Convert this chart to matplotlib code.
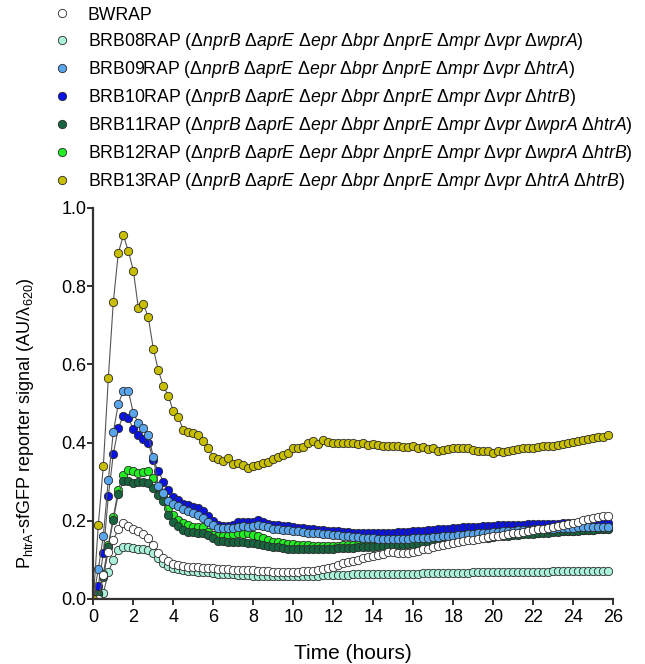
"""
plot.py

PhtrA-sfGFP reporter time courses for the protease deletion strains.
Writes out.png.
"""

import matplotlib
matplotlib.use("Agg")
import matplotlib.pyplot as plt
import numpy as np


plt.rcParams["font.family"] = ["Liberation Sans", "DejaVu Sans"]
plt.rcParams["mathtext.fontset"] = "custom"
plt.rcParams["mathtext.rm"] = "Liberation Sans"
plt.rcParams["mathtext.it"] = "Liberation Sans:italic"

# plate reader read every 15 min, 104 reads
TIME_STEP_H = 0.25

bwrap = [
    0.0, 0.0, 0.061, 0.121, 0.152, 0.178, 0.194, 0.186, 0.18, 0.174, 0.166, 0.155, 0.138,
    0.118, 0.104, 0.096, 0.09, 0.087, 0.085, 0.083, 0.083, 0.081, 0.079, 0.079, 0.078,
    0.077, 0.076, 0.076, 0.075, 0.075, 0.074, 0.074, 0.073, 0.072, 0.072, 0.071,
    0.070, 0.070, 0.069, 0.069, 0.070, 0.070, 0.071, 0.071, 0.072, 0.074, 0.076, 0.079,
    0.083, 0.087, 0.091, 0.094, 0.097, 0.100, 0.104, 0.107,
    0.110, 0.113, 0.116, 0.119, 0.121, 0.118, 0.117, 0.118, 0.121, 0.124, 0.127, 0.129,
    0.132, 0.135, 0.138, 0.141, 0.144, 0.146, 0.148, 0.150, 0.152, 0.154, 0.156, 0.158,
    0.160, 0.162, 0.164, 0.166, 0.168, 0.170, 0.172, 0.174, 0.176, 0.178, 0.180, 0.182,
    0.185, 0.187, 0.190, 0.192, 0.195, 0.198, 0.201, 0.204, 0.207, 0.209, 0.211, 0.212,
]
brb08 = [
    0.0, 0.003, 0.015, 0.068, 0.10, 0.125, 0.133, 0.133, 0.131, 0.128, 0.129, 0.125, 0.117,
    0.104, 0.093, 0.085, 0.078, 0.076, 0.074, 0.072, 0.071, 0.070, 0.068, 0.068, 0.066,
    0.065, 0.064, 0.063, 0.063, 0.062, 0.061, 0.061, 0.060, 0.060, 0.059, 0.059,
    0.058, 0.058, 0.058, 0.058, 0.058, 0.059, 0.059, 0.060, 0.060, 0.060, 0.061, 0.061,
    0.061, 0.062, 0.062, 0.062, 0.063, 0.063, 0.063, 0.063,
    0.064, 0.064, 0.064, 0.064, 0.064, 0.065, 0.065, 0.065, 0.065, 0.065, 0.066, 0.066,
    0.066, 0.066, 0.066, 0.067, 0.067, 0.067, 0.067, 0.067, 0.068, 0.068, 0.068, 0.068,
    0.068, 0.068, 0.069, 0.069, 0.069, 0.069, 0.069, 0.070, 0.070, 0.070, 0.070, 0.070,
    0.071, 0.071, 0.071, 0.071, 0.071, 0.072, 0.072, 0.072, 0.072, 0.072, 0.072, 0.072,
]
brb09 = [
    0.0, 0.077, 0.161, 0.305, 0.427, 0.499, 0.532, 0.532, 0.476, 0.45, 0.438, 0.42, 0.363,
    0.288, 0.27, 0.25, 0.244, 0.238, 0.230, 0.226, 0.22, 0.215, 0.206, 0.196, 0.188,
    0.182, 0.181, 0.181, 0.182, 0.185, 0.186, 0.185, 0.186, 0.188, 0.186, 0.183,
    0.180, 0.178, 0.177, 0.176, 0.175, 0.173, 0.172, 0.170, 0.169, 0.168, 0.166, 0.165,
    0.164, 0.163, 0.161, 0.160, 0.159, 0.158, 0.157, 0.156,
    0.155, 0.154, 0.154, 0.154, 0.153, 0.153, 0.154, 0.154, 0.155, 0.155, 0.156, 0.157,
    0.158, 0.159, 0.160, 0.161, 0.162, 0.163, 0.164, 0.165, 0.166, 0.168, 0.169, 0.170,
    0.171, 0.172, 0.173, 0.174, 0.175, 0.176, 0.176, 0.177, 0.178, 0.178, 0.179, 0.180,
    0.180, 0.181, 0.181, 0.182, 0.182, 0.183, 0.183, 0.184, 0.184, 0.185, 0.185, 0.185,
]
brb10 = [
    0.0, 0.034, 0.117, 0.263, 0.371, 0.438, 0.468, 0.462, 0.435, 0.419, 0.41, 0.40, 0.355,
    0.328, 0.30, 0.28, 0.262, 0.253, 0.244, 0.24, 0.236, 0.232, 0.224, 0.211, 0.199,
    0.19, 0.187, 0.187, 0.189, 0.196, 0.197, 0.196, 0.198, 0.201, 0.196, 0.193,
    0.190, 0.189, 0.187, 0.186, 0.184, 0.182, 0.181, 0.180, 0.178, 0.177, 0.176, 0.175,
    0.174, 0.173, 0.172, 0.171, 0.170, 0.169, 0.168, 0.168,
    0.168, 0.168, 0.169, 0.169, 0.170, 0.171, 0.172, 0.172, 0.173, 0.174, 0.175, 0.176,
    0.177, 0.178, 0.179, 0.180, 0.181, 0.182, 0.183, 0.183, 0.184, 0.185, 0.186, 0.187,
    0.187, 0.188, 0.188, 0.189, 0.189, 0.190, 0.190, 0.191, 0.191, 0.192, 0.192, 0.193,
    0.193, 0.193, 0.194, 0.194, 0.194, 0.195, 0.195, 0.195, 0.195, 0.195, 0.195, 0.195,
]
brb11 = [
    0.0, 0.012, 0.055, 0.133, 0.203, 0.268, 0.302, 0.303, 0.297, 0.30, 0.30, 0.296, 0.283,
    0.266, 0.25, 0.215, 0.198, 0.186, 0.177, 0.172, 0.172, 0.169, 0.168, 0.163, 0.155,
    0.149, 0.148, 0.147, 0.147, 0.147, 0.146, 0.144, 0.143, 0.141, 0.138, 0.136,
    0.134, 0.132, 0.130, 0.129, 0.128, 0.127, 0.127, 0.127, 0.127, 0.128, 0.128, 0.129,
    0.129, 0.130, 0.130, 0.131, 0.131, 0.132, 0.133, 0.133,
    0.134, 0.135, 0.135, 0.136, 0.137, 0.138, 0.139, 0.140, 0.141, 0.142, 0.143, 0.144,
    0.145, 0.146, 0.147, 0.148, 0.149, 0.150, 0.151, 0.153, 0.154, 0.155, 0.156, 0.157,
    0.158, 0.160, 0.161, 0.162, 0.163, 0.164, 0.165, 0.166, 0.167, 0.168, 0.169, 0.170,
    0.171, 0.172, 0.173, 0.174, 0.175, 0.175, 0.176, 0.177, 0.177, 0.178, 0.178, 0.179,
]
brb12 = [
    0.0, 0.015, 0.065, 0.137, 0.21, 0.28, 0.317, 0.33, 0.328, 0.322, 0.325, 0.328, 0.31,
    0.283, 0.262, 0.232, 0.215, 0.202, 0.195, 0.189, 0.185, 0.185, 0.183, 0.172, 0.164,
    0.160, 0.160, 0.161, 0.166, 0.168, 0.167, 0.168, 0.164, 0.160, 0.155, 0.151,
    0.147, 0.145, 0.143, 0.141, 0.140, 0.139, 0.138, 0.137, 0.136, 0.136, 0.136, 0.136,
    0.136, 0.136, 0.137, 0.137, 0.137, 0.138, 0.138, 0.139,
    0.139, 0.140, 0.141, 0.142, 0.143, 0.144, 0.145, 0.146, 0.147, 0.148, 0.149, 0.150,
    0.151, 0.152, 0.153, 0.154, 0.155, 0.156, 0.157, 0.158, 0.159, 0.160, 0.161, 0.162,
    0.163, 0.164, 0.165, 0.166, 0.166, 0.167, 0.168, 0.169, 0.170, 0.170, 0.171, 0.172,
    0.173, 0.173, 0.174, 0.175, 0.175, 0.176, 0.176, 0.177, 0.177, 0.178, 0.178, 0.178,
]
brb13 = [
    0.0, 0.19, 0.34, 0.565, 0.76, 0.885, 0.93, 0.89, 0.84, 0.745, 0.755, 0.72, 0.64,
    0.585, 0.545, 0.52, 0.48, 0.465, 0.432, 0.428, 0.424, 0.419, 0.404, 0.387, 0.364,
    0.357, 0.354, 0.36, 0.345, 0.347, 0.343, 0.334, 0.34, 0.343, 0.347, 0.351,
    0.357, 0.362, 0.368, 0.373, 0.385, 0.385, 0.388, 0.40, 0.404, 0.396, 0.407, 0.402,
    0.40, 0.398, 0.398, 0.398, 0.398, 0.396, 0.398, 0.395,
    0.396, 0.394, 0.39, 0.392, 0.39, 0.39, 0.389, 0.389, 0.392, 0.385, 0.389, 0.383,
    0.385, 0.379, 0.381, 0.383, 0.385, 0.385, 0.385, 0.387, 0.381, 0.379, 0.378, 0.378,
    0.374, 0.379, 0.377, 0.379, 0.381, 0.383, 0.385, 0.385, 0.387, 0.389, 0.39, 0.39,
    0.392, 0.394, 0.396, 0.40, 0.402, 0.404, 0.406, 0.409, 0.411, 0.413, 0.415, 0.42,
]

GENES8 = r"$\Delta nprB\ \Delta aprE\ \Delta epr\ \Delta bpr\ \Delta nprE\ \Delta mpr\ \Delta vpr"

# (label, values, face colour) in legend order
strains = [
    ("BWRAP", bwrap, "#ffffff"),
    ("BRB08RAP (" + GENES8 + r"\ \Delta wprA$)", brb08, "#aaf0da"),
    ("BRB09RAP (" + GENES8 + r"\ \Delta htrA$)", brb09, "#5aa6ec"),
    ("BRB10RAP (" + GENES8 + r"\ \Delta htrB$)", brb10, "#0a12e4"),
    ("BRB11RAP (" + GENES8 + r"\ \Delta wprA\ \Delta htrA$)", brb11, "#17643f"),
    ("BRB12RAP (" + GENES8 + r"\ \Delta wprA\ \Delta htrB$)", brb12, "#22ec22"),
    ("BRB13RAP (" + GENES8 + r"\ \Delta htrA\ \Delta htrB$)", brb13, "#c8be00"),
]

# stacking: which series sits on top where they overlap
DRAW_ORDER = {0: 6, 1: 1, 2: 5, 3: 4, 4: 3, 5: 2, 6: 7}


def main() -> None:
    fig = plt.figure(figsize=(6.45, 6.64), dpi=100)
    ax = fig.add_axes([0.1447, 0.0979, 0.806, 0.5889])

    handles = []
    for k, (label, values, colour) in enumerate(strains):
        t = np.arange(len(values)) * TIME_STEP_H
        z = DRAW_ORDER[k] * 2
        ax.plot(t, values, color="#555555", lw=0.8, zorder=z)
        (h,) = ax.plot(t, values, "o", ms=6.0, mfc=colour, mec="#2a2a2a",
                       mew=0.6, zorder=z + 1, label=label)
        handles.append(h)

    ax.set_xlim(0, 26)
    ax.set_ylim(0, 1.0)
    ax.set_xticks(np.arange(0, 27, 2))
    ax.set_yticks(np.arange(0, 1.01, 0.2))
    ax.set_yticklabels([f"{v:.1f}" for v in np.arange(0, 1.01, 0.2)])

    for side in ("top", "right"):
        ax.spines[side].set_visible(False)
    for side in ("left", "bottom"):
        ax.spines[side].set_linewidth(1.6)
        ax.spines[side].set_color("#333333")
        ax.spines[side].set_zorder(20)
    ax.tick_params(direction="out", length=4, width=1.4, color="#333333",
                   labelsize=13)
    ax.tick_params(axis="x", pad=3)
    ax.tick_params(axis="y", pad=1)

    ax.set_xlabel("Time (hours)", fontsize=15, labelpad=13)
    ax.set_ylabel(r"P$_{\mathrm{htrA}}$-sfGFP reporter signal (AU/λ$_{\mathrm{620}}$)",
                  fontsize=13)
    ax.yaxis.set_label_coords(-0.11, 0.45)

    fig.legend(handles=handles, loc="upper left", bbox_to_anchor=(0.083, 0.99),
               frameon=False, fontsize=12.7, handlelength=0.97, handletextpad=0.97,
               labelspacing=0.40, borderpad=0, borderaxespad=0, numpoints=1)

    fig.savefig("out.png", dpi=100)
    plt.close(fig)


if __name__ == "__main__":
    main()
